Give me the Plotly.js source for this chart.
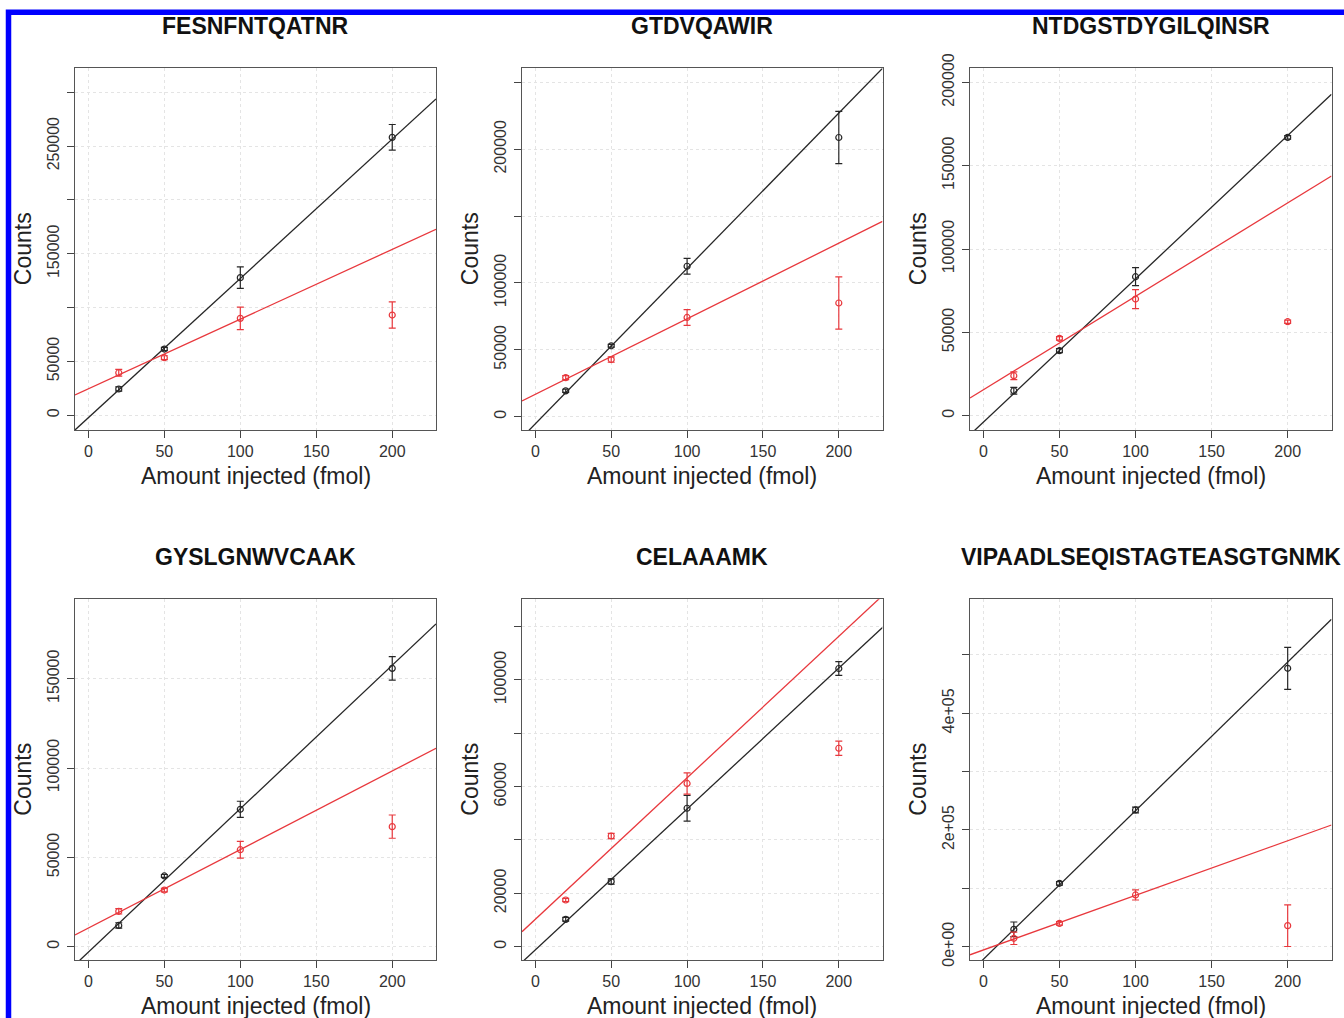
<!DOCTYPE html>
<html>
<head>
<meta charset="utf-8">
<script src="https://cdn.plot.ly/plotly-3.0.1.min.js"></script>
<style>html,body{margin:0;padding:0;background:#fff;}#chart{width:1344px;height:1018px;}</style>
</head>
<body>
<div id="chart"></div>
<script>
// ---------- data ----------
const peptides = ["FESNFNTQATNR", "GTDVQAWIR", "NTDGSTDYGILQINSR", "GYSLGNWVCAAK", "CELAAAMK", "VIPAADLSEQISTAGTEASGTGNMK"];
const amounts = [20, 50, 100, 200]; // fmol

// black series: mean counts and error (half-length) at each amount
const blackCounts = [
  [24400, 61500, 127800, 258100],
  [19300, 53000, 112500, 208800],
  [15000, 39000, 83400, 167000],
  [11900, 39600, 76900, 155800],
  [10250, 24400, 51900, 104300],
  [29700, 108600, 234300, 477100]
];
const blackErrors = [
  [2000, 1500, 10000, 11900],
  [1200, 1000, 5900, 19600],
  [2000, 1200, 5400, 1000],
  [1500, 800, 4500, 6600],
  [700, 1000, 4800, 2600],
  [12600, 3000, 5000, 36000]
];
// red series
const redCounts = [
  [39500, 53500, 90000, 93100],
  [29200, 42700, 74200, 85000],
  [24000, 46400, 70000, 56400],
  [19800, 31700, 54300, 67200],
  [17500, 41500, 61200, 74400],
  [14300, 40000, 88600, 36000]
];
const redErrors = [
  [3100, 1800, 10500, 12200],
  [1500, 2000, 5900, 19500],
  [2300, 1000, 5700, 1000],
  [1500, 1000, 4700, 6500],
  [600, 1000, 4000, 2700],
  [10600, 3000, 8600, 35700]
];
// fitted lines: [intercept, slope]
const blackFit = [[-2270, 1293.6], [-5330, 1162], [-3850, 859.7], [-3050, 802.8], [-1200, 528.2], [-21600, 2546.7]];
const redFit = [[24550, 647.5], [16750, 565], [15600, 560.4], [10400, 439.8], [10260, 530.5], [-5670, 936.3]];

// axes
const xTicks = [0, 50, 100, 150, 200];
const yTicks = [
  [0, 50000, 100000, 150000, 200000, 250000, 300000],
  [0, 50000, 100000, 150000, 200000, 250000],
  [0, 50000, 100000, 150000, 200000],
  [0, 50000, 100000, 150000],
  [0, 20000, 40000, 60000, 80000, 100000, 120000],
  [0, 100000, 200000, 300000, 400000, 500000]
];
const yTickLabels = [
  ["0", "50000", "", "150000", "", "250000", ""],
  ["0", "50000", "100000", "", "200000", ""],
  ["0", "50000", "100000", "150000", "200000"],
  ["0", "50000", "100000", "150000"],
  ["0", "20000", "", "60000", "", "100000", ""],
  ["0e+00", "", "2e+05", "", "4e+05", ""]
];
const xRange = [-8.8, 228.8];
const yRanges = [[-13650, 322200], [-9975, 260550], [-8580, 208440], [-7444, 194440], [-5000, 130250], [-22857, 595400]];

// ---------- layout geometry (pixels) ----------
const W = 1344, H = 1018;
const colLeft = [75, 522, 970], colRight = [436, 882.5, 1331.5];
const rowTop = [68.3, 599.3], rowBottom = [430, 960];
const titleY = [26.5, 557];
const px = x => x / W;
const py = y => 1 - y / H;

const FONT = "Liberation Sans, Arial, Helvetica, sans-serif";
const BLACK = "#262626", RED = "#e8383d";

const traces = [];
const layout = {
  width: W, height: H,
  margin: {l: 0, r: 0, t: 0, b: 0},
  paper_bgcolor: "#ffffff", plot_bgcolor: "#ffffff",
  showlegend: false,
  font: {family: FONT, color: "#222"},
  annotations: [],
  shapes: [{
    type: "rect", xref: "paper", yref: "paper",
    x0: px(8.5), x1: px(1370), y0: py(1040), y1: py(12.3),
    line: {color: "#0000ff", width: 5.5}, fillcolor: "rgba(0,0,0,0)", layer: "above"
  }]
};

peptides.forEach((pep, i) => {
  const col = i % 3, row = Math.floor(i / 3);
  const sfx = i === 0 ? "" : String(i + 1);
  const xa = "x" + sfx, ya = "y" + sfx;
  const axisCommon = {
    showline: true, mirror: true, linecolor: "#555", linewidth: 1,
    ticks: "outside", ticklen: 7, tickcolor: "#444", tickwidth: 1,
    showgrid: true, gridcolor: "#e4e4e4", griddash: "dot", gridwidth: 1,
    zeroline: false, tickfont: {family: FONT, size: 16, color: "#333"},
    fixedrange: true
  };
  layout["xaxis" + sfx] = Object.assign({}, axisCommon, {
    domain: [px(colLeft[col]), px(colRight[col])],
    anchor: ya, range: xRange, tickmode: "array", tickvals: xTicks,
    ticktext: xTicks.map(String)
  });
  layout["yaxis" + sfx] = Object.assign({}, axisCommon, {
    domain: [py(rowBottom[row]), py(rowTop[row])],
    anchor: xa, range: yRanges[i], tickmode: "array", tickvals: yTicks[i],
    ticktext: yTickLabels[i], tickangle: -90, ticklabelstandoff: 2
  });

  const fitX = xRange.slice();
  [[blackFit[i], BLACK], [redFit[i], RED]].forEach(([fit, c]) => {
    traces.push({
      type: "scatter", mode: "lines", xaxis: xa, yaxis: ya,
      x: fitX, y: fitX.map(v => fit[0] + fit[1] * v),
      line: {color: c, width: 1.3}, hoverinfo: "skip", cliponaxis: true
    });
  });
  [[blackCounts[i], blackErrors[i], BLACK], [redCounts[i], redErrors[i], RED]].forEach(([ys, es, c]) => {
    traces.push({
      type: "scatter", mode: "markers", xaxis: xa, yaxis: ya,
      x: amounts, y: ys,
      error_y: {type: "data", array: es, visible: true, color: c, thickness: 1.2, width: 3.5},
      marker: {symbol: "circle-open", size: 6, color: c, line: {color: c, width: 1.2}}
    });
  });

  const cx = (colLeft[col] + colRight[col]) / 2;
  const cy = (rowTop[row] + rowBottom[row]) / 2;
  layout.annotations.push({
    text: "<b>" + pep + "</b>", xref: "paper", yref: "paper",
    x: px(cx), y: py(titleY[row]), xanchor: "center", yanchor: "middle",
    showarrow: false, font: {family: FONT, size: 23, color: "#111"}
  });
  layout.annotations.push({
    text: "Counts", xref: "paper", yref: "paper", textangle: -90,
    x: px(colLeft[col] - 52), y: py(cy), xanchor: "center", yanchor: "middle",
    showarrow: false, font: {family: FONT, size: 23, color: "#222"}
  });
  layout.annotations.push({
    text: "Amount injected (fmol)", xref: "paper", yref: "paper",
    x: px(cx), y: py(rowBottom[row] + 45.5), xanchor: "center", yanchor: "middle",
    showarrow: false, font: {family: FONT, size: 23, color: "#222"}
  });
});

Plotly.newPlot("chart", traces, layout, {displayModeBar: false, staticPlot: true});
</script>
</body>
</html>
